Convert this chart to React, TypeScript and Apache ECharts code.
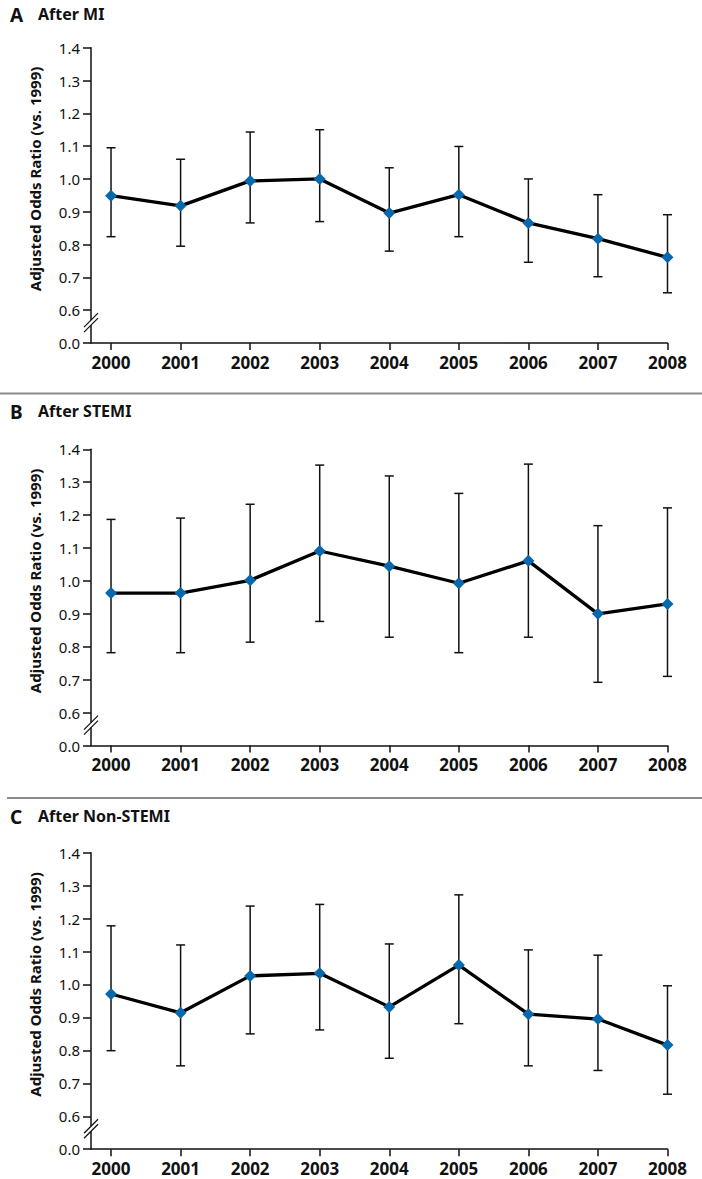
import React, { useEffect, useRef } from "react";
import * as echarts from "echarts";

const years = [2000, 2001, 2002, 2003, 2004, 2005, 2006, 2007, 2008];

const panelLetters = ["A", "B", "C"];
const panelTitles = ["After MI", "After STEMI", "After Non-STEMI"];

const miOR = [0.949, 0.918, 0.994, 1.0, 0.896, 0.952, 0.866, 0.818, 0.761];
const miLow = [0.824, 0.795, 0.866, 0.87, 0.78, 0.824, 0.746, 0.702, 0.653];
const miHigh = [1.095, 1.06, 1.143, 1.15, 1.034, 1.099, 1.0, 0.952, 0.891];

const stemiOR = [0.963, 0.963, 1.002, 1.091, 1.045, 0.993, 1.061, 0.9, 0.93];
const stemiLow = [0.782, 0.782, 0.814, 0.877, 0.829, 0.782, 0.829, 0.692, 0.71];
const stemiHigh = [1.187, 1.191, 1.233, 1.352, 1.319, 1.266, 1.355, 1.168, 1.222];

const nstemiOR = [0.971, 0.914, 1.026, 1.034, 0.932, 1.059, 0.91, 0.895, 0.816];
const nstemiLow = [0.799, 0.753, 0.85, 0.862, 0.776, 0.881, 0.753, 0.739, 0.667];
const nstemiHigh = [1.178, 1.12, 1.238, 1.243, 1.123, 1.272, 1.105, 1.089, 0.996];

const yTickValues = [0.5, 0.6, 0.7, 0.8, 0.9, 1.0, 1.1, 1.2, 1.3, 1.4];
const yTickLabels = ["0.0", "0.6", "0.7", "0.8", "0.9", "1.0", "1.1", "1.2", "1.3", "1.4"];
const yAxisTitle = "Adjusted Odds Ratio (vs. 1999)";

const FONT = "'Noto Sans', sans-serif";

export default function App() {
  const ref = useRef<HTMLDivElement>(null);
  useEffect(() => {
    document.body.style.margin = "0";
    if (!ref.current) return;
    const chart = echarts.init(ref.current, null, { renderer: "svg" });

    const panels = [
      { or: miOR, lo: miLow, hi: miHigh },
      { or: stemiOR, lo: stemiLow, hi: stemiHigh },
      { or: nstemiOR, lo: nstemiLow, hi: nstemiHigh },
    ];
    const grids = [
      { left: 91, top: 47.7, width: 576.5, height: 295.3 },
      { left: 91, top: 449.3, width: 576.5, height: 296.2 },
      { left: 91, top: 852.7, width: 576.5, height: 296.5 },
    ];
    const titleY = [17, 414, 819];

    const xAxes = grids.map((_, i) => ({
      type: "value",
      gridIndex: i,
      min: 1999.712,
      max: 2008,
      splitLine: { show: false },
      axisLine: { lineStyle: { color: "#111", width: 1.5 } },
      axisTick: {
        customValues: years,
        length: 7,
        lineStyle: { color: "#111", width: 1.5 },
      },
      axisLabel: {
        customValues: years,
        margin: 10,
        fontFamily: FONT,
        fontWeight: "bold",
        fontSize: 17,
        lineHeight: 18,
        color: "#111",
        formatter: (v: number) => String(Math.round(v)),
      },
    }));

    const yAxes = grids.map((_, i) => ({
      type: "value",
      gridIndex: i,
      min: 0.5,
      max: 1.4,
      interval: 0.1,
      splitLine: { show: false },
      axisLine: { show: true, lineStyle: { color: "#111", width: 1.5 } },
      axisTick: { show: true, length: 8, lineStyle: { color: "#111", width: 1.5 } },
      axisLabel: {
        margin: 11,
        fontFamily: FONT,
        fontSize: 15,
        color: "#111",
        formatter: (v: number) => {
          let best = 0;
          for (let k = 0; k < yTickValues.length; k++) {
            if (Math.abs(yTickValues[k] - v) < Math.abs(yTickValues[best] - v)) best = k;
          }
          return yTickLabels[best];
        },
      },
    }));

    const series: any[] = [];
    panels.forEach((p, i) => {
      series.push({
        type: "custom",
        xAxisIndex: i,
        yAxisIndex: i,
        z: 2,
        encode: { x: 0, y: [1, 2] },
        data: years.map((yr, k) => [yr, p.lo[k], p.hi[k]]),
        renderItem: (params: any, api: any) => {
          const x = api.value(0);
          const top = api.coord([x, api.value(2)]);
          const bot = api.coord([x, api.value(1)]);
          const hw = 4.5;
          const style = { stroke: "#111", lineWidth: 1.5 };
          return {
            type: "group",
            children: [
              { type: "line", shape: { x1: top[0], y1: top[1], x2: bot[0], y2: bot[1] }, style },
              { type: "line", shape: { x1: top[0] - hw, y1: top[1], x2: top[0] + hw, y2: top[1] }, style },
              { type: "line", shape: { x1: bot[0] - hw, y1: bot[1], x2: bot[0] + hw, y2: bot[1] }, style },
            ],
          };
        },
      });
      series.push({
        type: "line",
        xAxisIndex: i,
        yAxisIndex: i,
        z: 5,
        data: years.map((yr, k) => [yr, p.or[k]]),
        symbol: "diamond",
        symbolSize: [12, 12],
        itemStyle: { color: "#0868AC" },
        lineStyle: { color: "#000", width: 3.3 },
      });
    });

    chart.setOption({
      animation: false,
      grid: grids,
      xAxis: xAxes,
      yAxis: yAxes,
      series,
    });

    const graphics: any[] = [];
    grids.forEach((g, i) => {
      graphics.push({
        type: "text",
        left: 10,
        top: titleY[i] - 12,
        style: { text: panelLetters[i], font: `bold 19px ${FONT}`, fill: "#111" },
      });
      graphics.push({
        type: "text",
        left: 38,
        top: titleY[i] - 11,
        style: { text: panelTitles[i], font: `bold 16px ${FONT}`, fill: "#111" },
      });
      const mid = chart.convertToPixel({ gridIndex: i } as any, [2000, 1.0]) as number[];
      graphics.push({
        type: "text",
        x: 35,
        y: mid[1],
        rotation: Math.PI / 2,
        style: {
          text: yAxisTitle,
          font: `bold 15px ${FONT}`,
          fill: "#111",
          align: "center",
          verticalAlign: "middle",
        },
      });
      const br = chart.convertToPixel({ gridIndex: i } as any, [1999.712, 0.562]) as number[];
      const cx = br[0];
      const cy = br[1];
      graphics.push({
        type: "rect",
        shape: { x: cx - 2, y: cy - 2.5, width: 4, height: 5 },
        style: { fill: "#fff" },
        z: 100,
      });
      [-2.5, 2.5].forEach((off) => {
        graphics.push({
          type: "line",
          shape: { x1: cx - 7, y1: cy + off + 7, x2: cx + 7, y2: cy + off - 7 },
          style: { stroke: "#111", lineWidth: 1.3 },
          z: 101,
        });
      });
    });
    graphics.push({
      type: "line",
      shape: { x1: 0, y1: 393.5, x2: 702, y2: 393.5 },
      style: { stroke: "#8a8a8a", lineWidth: 2 },
    });
    graphics.push({
      type: "line",
      shape: { x1: 7, y1: 798, x2: 702, y2: 798 },
      style: { stroke: "#8a8a8a", lineWidth: 2 },
    });

    chart.setOption({ graphic: graphics });

    return () => chart.dispose();
  }, []);
  return <div ref={ref} style={{ width: 702, height: 1179 }} />;
}
